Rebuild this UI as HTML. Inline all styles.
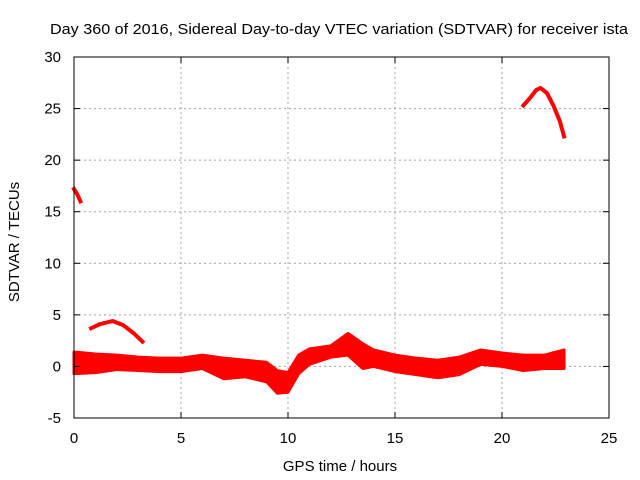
<!DOCTYPE html>
<html><head><meta charset="utf-8"><style>
body{margin:0;background:#fff;}
svg{display:block;font-family:"Liberation Sans",sans-serif;font-size:15px;}
</style></head><body>
<svg id="chart" width="640" height="480">
<rect width="640" height="480" fill="#fff"/>
<text x="339" y="34" text-anchor="middle" textLength="578" lengthAdjust="spacingAndGlyphs">Day 360 of 2016, Sidereal Day-to-day VTEC variation (SDTVAR) for receiver ista</text>
<text x="340" y="471" text-anchor="middle">GPS time / hours</text>
<text transform="translate(19,242) rotate(-90)" text-anchor="middle">SDTVAR / TECUs</text>
<g id="grid"></g><g id="series"></g><g id="axes"></g>
</svg>
<script>
const xTicks=[0,5,10,15,20,25];
const yTicks=[-5,0,5,10,15,20,25,30];
const bandTime=[0,1,2,3,4,5,6,7,8,9,9.5,10,10.5,11,12,12.8,13.5,14,15,16,17,18,19,20,21,22,22.9];
const bandUpper=[1.4,1.2,1.1,0.9,0.8,0.8,1.1,0.8,0.6,0.4,-0.4,-0.6,1.1,1.7,2.0,3.2,2.2,1.6,1.1,0.8,0.6,0.9,1.6,1.3,1.1,1.1,1.6];
const bandLower=[-0.7,-0.6,-0.3,-0.4,-0.5,-0.5,-0.2,-1.2,-1.0,-1.5,-2.6,-2.5,-0.7,0.2,0.9,1.1,-0.2,0,-0.5,-0.8,-1.1,-0.8,0.2,0,-0.4,-0.2,-0.2];
const arc1Time=[0.8,1.2,1.8,2.3,2.8,3.2];
const arc1Val=[3.7,4.1,4.4,4.0,3.2,2.4];
const startTime=[0,0.15,0.3];
const startVal=[17.2,16.7,16.0];
const arc2Time=[21,21.3,21.6,21.8,22.1,22.4,22.7,22.9];
const arc2Val=[25.3,26.0,26.8,27.0,26.5,25.3,23.8,22.3];

const X0=74,X1=609,Y0=418,Y1=57;
const xs=v=>X0+(v-0)/25*(X1-X0);
const ys=v=>Y0-(v+5)/35*(Y0-Y1);
const NS="http://www.w3.org/2000/svg";
function mk(t,a,p){const e=document.createElementNS(NS,t);for(const k in a)e.setAttribute(k,a[k]);p.appendChild(e);return e;}
const grid=document.getElementById('grid'),axes=document.getElementById('axes'),ser=document.getElementById('series');
xTicks.forEach(t=>{
 if(t>0&&t<25){const g=mk('line',{x1:xs(t),x2:xs(t),y1:Y1,y2:Y0,stroke:'#a0a0a0','stroke-dasharray':'2,3'},grid);
 
 }
 const l=mk('text',{x:xs(t),y:443,'text-anchor':'middle'},axes);l.textContent=t;
 
 
 mk('line',{x1:xs(t),x2:xs(t),y1:Y0,y2:Y0-6,stroke:'#000'},axes);
 mk('line',{x1:xs(t),x2:xs(t),y1:Y1,y2:Y1+6,stroke:'#000'},axes);
});
yTicks.forEach(t=>{
 if(t>-5&&t<30){const g=mk('line',{x1:X0,x2:X1,y1:ys(t),y2:ys(t),stroke:'#a0a0a0','stroke-dasharray':'2,3'},grid);
 
 }
 const l=mk('text',{x:61,y:ys(t)+5,'text-anchor':'end'},axes);l.textContent=t;
 
 
 mk('line',{x1:X0,x2:X0+6,y1:ys(t),y2:ys(t),stroke:'#000'},axes);
 mk('line',{x1:X1,x2:X1-6,y1:ys(t),y2:ys(t),stroke:'#000'},axes);
});
const fr=mk('rect',{x:X0,y:Y1,width:X1-X0,height:Y0-Y1,fill:'none',stroke:'#000'},axes);


let d='';
bandTime.forEach((t,i)=>{d+=(i?'L':'M')+xs(t)+','+ys(bandUpper[i]);});
for(let i=bandTime.length-1;i>=0;i--)d+='L'+xs(bandTime[i])+','+ys(bandLower[i]);
const band=mk('path',{d:d+'Z',fill:'#ff0000',stroke:'#ff0000','stroke-width':3,'stroke-linejoin':'round'},ser);


function line(T,V,name){
 const p=mk('polyline',{points:T.map((t,i)=>xs(t)+','+ys(V[i])).join(' '),fill:'none',stroke:'#ff0000','stroke-width':4,'stroke-linejoin':'round','stroke-linecap':'square'},ser);
 
 
}
line(arc1Time,arc1Val,'sdtvar-arc-early');
line(startTime,startVal,'sdtvar-start-segment');
line(arc2Time,arc2Val,'sdtvar-arc-late');
</script>
</body></html>
